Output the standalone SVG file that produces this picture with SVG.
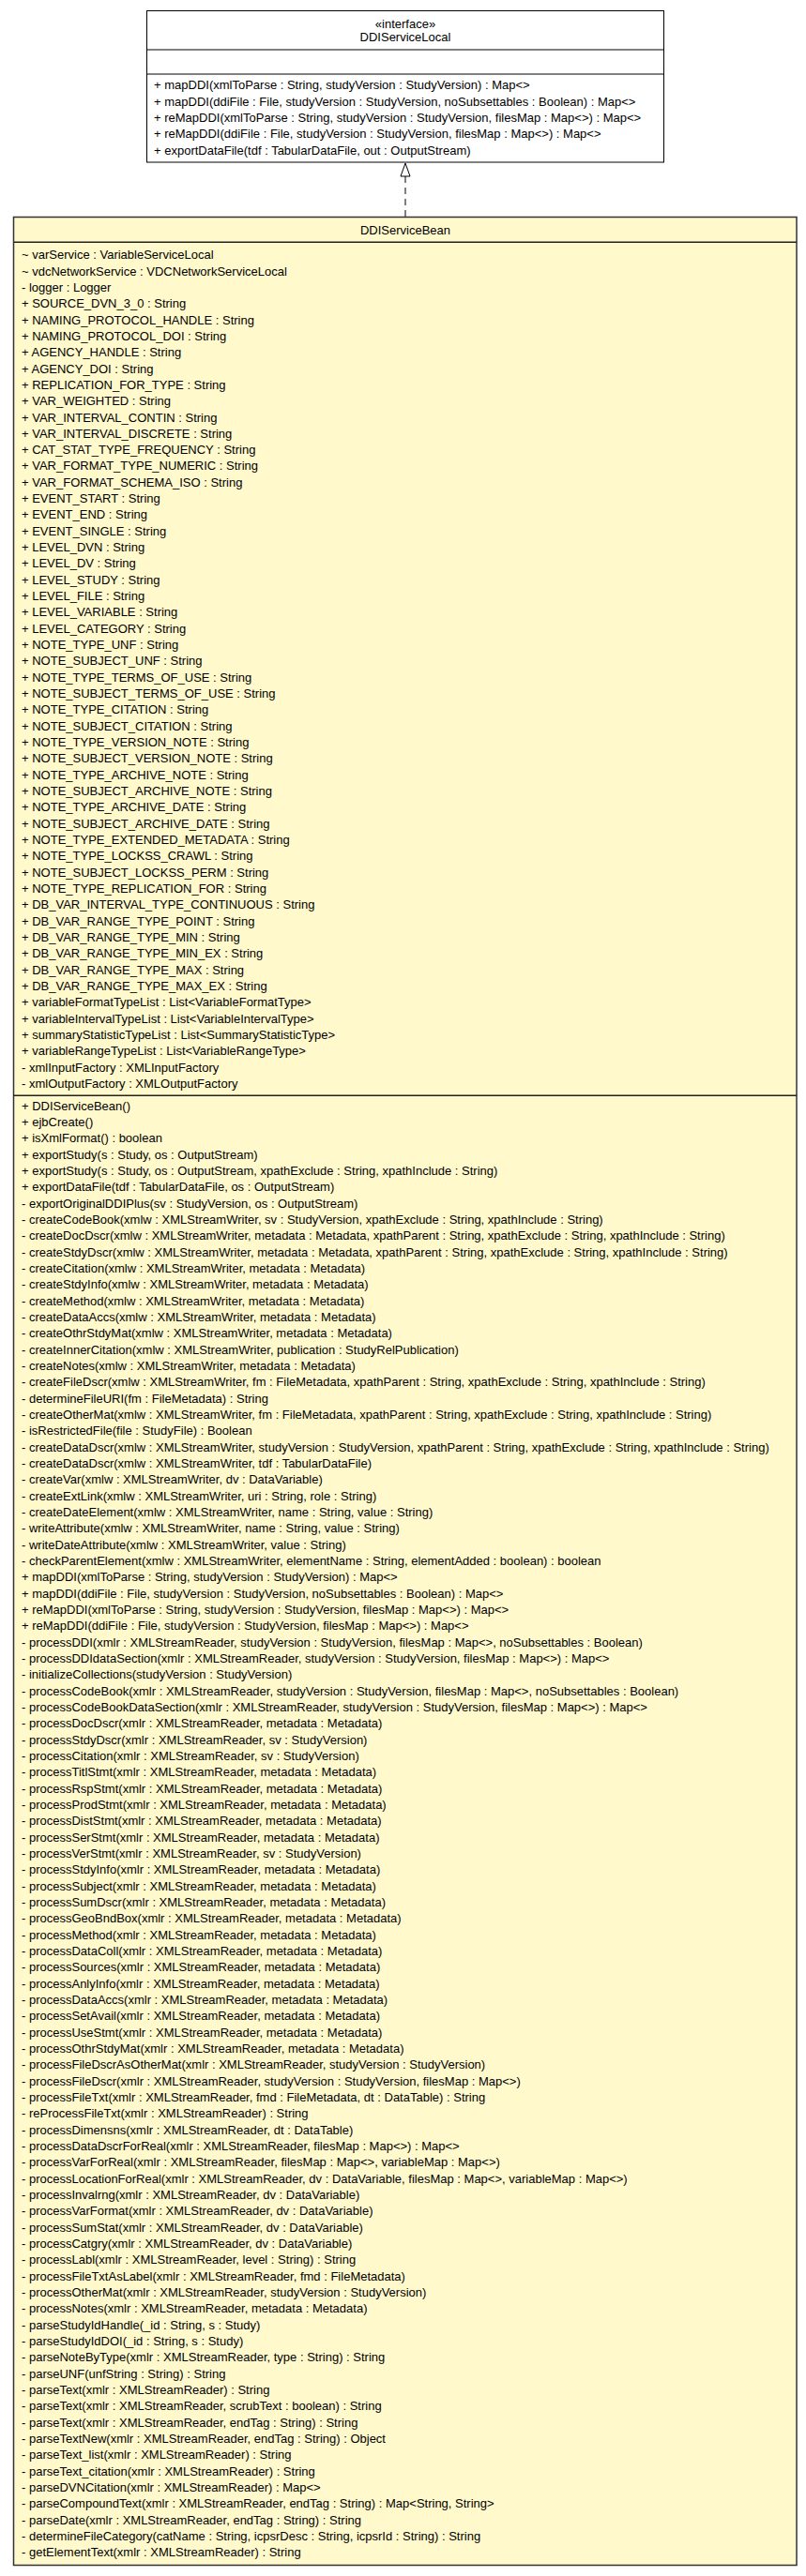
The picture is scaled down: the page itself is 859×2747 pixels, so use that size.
<svg xmlns="http://www.w3.org/2000/svg" width="859" height="2747" viewBox="0 0 859 2747">
<style>
.t{font-family:"Liberation Sans",Arial,sans-serif;font-size:13px;fill:#000}
.c{text-anchor:middle}
.ib{fill:#fff;stroke:#000;stroke-width:1}
.bb{fill:#FFF9CC;stroke:#333;stroke-width:1.5}
.sep{stroke:#000;stroke-width:1}
.bsep{stroke:#222;stroke-width:1.5}
.dash{fill:none;stroke:#000;stroke-width:1;stroke-dasharray:7,5}
</style>
<defs>
<marker id="realize" markerUnits="userSpaceOnUse" markerWidth="16" markerHeight="12" viewBox="0 0 16 12" refX="15" refY="6" orient="auto">
<path d="M1,1 L15,6 L1,11 Z" fill="#fff" stroke="#000" stroke-width="1" stroke-dasharray="none"/>
</marker>
</defs>
<rect width="859" height="2747" fill="#fff"/>
<g id="connectors">
<path class="dash" d="M432,231 L432,174" marker-end="url(#realize)"/>
</g>
<g id="DDIServiceLocal">
<rect class="ib" x="156.5" y="11.5" width="551" height="161.5"/>
<line class="sep" x1="156.5" y1="53" x2="707.5" y2="53"/>
<line class="sep" x1="156.5" y1="79" x2="707.5" y2="79"/>
<text class="t c" x="432" y="29.5">«interface»</text>
<text class="t c" x="432" y="44">DDIServiceLocal</text>
<text class="t" x="164" y="95.2">+ mapDDI(xmlToParse : String, studyVersion : StudyVersion) : Map&lt;&gt;<tspan x="164" dy="17.33">+ mapDDI(ddiFile : File, studyVersion : StudyVersion, noSubsettables : Boolean) : Map&lt;&gt;</tspan><tspan x="164" dy="17.33">+ reMapDDI(xmlToParse : String, studyVersion : StudyVersion, filesMap : Map&lt;&gt;) : Map&lt;&gt;</tspan><tspan x="164" dy="17.33">+ reMapDDI(ddiFile : File, studyVersion : StudyVersion, filesMap : Map&lt;&gt;) : Map&lt;&gt;</tspan><tspan x="164" dy="17.33">+ exportDataFile(tdf : TabularDataFile, out : OutputStream)</tspan></text>
</g>
<g id="DDIServiceBean">
<rect class="bb" x="14.5" y="231.5" width="834.5" height="2504"/>
<line class="bsep" x1="14.5" y1="258.3" x2="849" y2="258.3"/>
<line class="bsep" x1="14.5" y1="1168.3" x2="849" y2="1168.3"/>
<text class="t c" x="432" y="249.5">DDIServiceBean</text>
<text class="t" x="23" y="276.2">~ varService : VariableServiceLocal<tspan x="23" dy="17.33">~ vdcNetworkService : VDCNetworkServiceLocal</tspan><tspan x="23" dy="17.33">- logger : Logger</tspan><tspan x="23" dy="17.33">+ SOURCE_DVN_3_0 : String</tspan><tspan x="23" dy="17.33">+ NAMING_PROTOCOL_HANDLE : String</tspan><tspan x="23" dy="17.33">+ NAMING_PROTOCOL_DOI : String</tspan><tspan x="23" dy="17.33">+ AGENCY_HANDLE : String</tspan><tspan x="23" dy="17.33">+ AGENCY_DOI : String</tspan><tspan x="23" dy="17.33">+ REPLICATION_FOR_TYPE : String</tspan><tspan x="23" dy="17.33">+ VAR_WEIGHTED : String</tspan><tspan x="23" dy="17.33">+ VAR_INTERVAL_CONTIN : String</tspan><tspan x="23" dy="17.33">+ VAR_INTERVAL_DISCRETE : String</tspan><tspan x="23" dy="17.33">+ CAT_STAT_TYPE_FREQUENCY : String</tspan><tspan x="23" dy="17.33">+ VAR_FORMAT_TYPE_NUMERIC : String</tspan><tspan x="23" dy="17.33">+ VAR_FORMAT_SCHEMA_ISO : String</tspan><tspan x="23" dy="17.33">+ EVENT_START : String</tspan><tspan x="23" dy="17.33">+ EVENT_END : String</tspan><tspan x="23" dy="17.33">+ EVENT_SINGLE : String</tspan><tspan x="23" dy="17.33">+ LEVEL_DVN : String</tspan><tspan x="23" dy="17.33">+ LEVEL_DV : String</tspan><tspan x="23" dy="17.33">+ LEVEL_STUDY : String</tspan><tspan x="23" dy="17.33">+ LEVEL_FILE : String</tspan><tspan x="23" dy="17.33">+ LEVEL_VARIABLE : String</tspan><tspan x="23" dy="17.33">+ LEVEL_CATEGORY : String</tspan><tspan x="23" dy="17.33">+ NOTE_TYPE_UNF : String</tspan><tspan x="23" dy="17.33">+ NOTE_SUBJECT_UNF : String</tspan><tspan x="23" dy="17.33">+ NOTE_TYPE_TERMS_OF_USE : String</tspan><tspan x="23" dy="17.33">+ NOTE_SUBJECT_TERMS_OF_USE : String</tspan><tspan x="23" dy="17.33">+ NOTE_TYPE_CITATION : String</tspan><tspan x="23" dy="17.33">+ NOTE_SUBJECT_CITATION : String</tspan><tspan x="23" dy="17.33">+ NOTE_TYPE_VERSION_NOTE : String</tspan><tspan x="23" dy="17.33">+ NOTE_SUBJECT_VERSION_NOTE : String</tspan><tspan x="23" dy="17.33">+ NOTE_TYPE_ARCHIVE_NOTE : String</tspan><tspan x="23" dy="17.33">+ NOTE_SUBJECT_ARCHIVE_NOTE : String</tspan><tspan x="23" dy="17.33">+ NOTE_TYPE_ARCHIVE_DATE : String</tspan><tspan x="23" dy="17.33">+ NOTE_SUBJECT_ARCHIVE_DATE : String</tspan><tspan x="23" dy="17.33">+ NOTE_TYPE_EXTENDED_METADATA : String</tspan><tspan x="23" dy="17.33">+ NOTE_TYPE_LOCKSS_CRAWL : String</tspan><tspan x="23" dy="17.33">+ NOTE_SUBJECT_LOCKSS_PERM : String</tspan><tspan x="23" dy="17.33">+ NOTE_TYPE_REPLICATION_FOR : String</tspan><tspan x="23" dy="17.33">+ DB_VAR_INTERVAL_TYPE_CONTINUOUS : String</tspan><tspan x="23" dy="17.33">+ DB_VAR_RANGE_TYPE_POINT : String</tspan><tspan x="23" dy="17.33">+ DB_VAR_RANGE_TYPE_MIN : String</tspan><tspan x="23" dy="17.33">+ DB_VAR_RANGE_TYPE_MIN_EX : String</tspan><tspan x="23" dy="17.33">+ DB_VAR_RANGE_TYPE_MAX : String</tspan><tspan x="23" dy="17.33">+ DB_VAR_RANGE_TYPE_MAX_EX : String</tspan><tspan x="23" dy="17.33">+ variableFormatTypeList : List&lt;VariableFormatType&gt;</tspan><tspan x="23" dy="17.33">+ variableIntervalTypeList : List&lt;VariableIntervalType&gt;</tspan><tspan x="23" dy="17.33">+ summaryStatisticTypeList : List&lt;SummaryStatisticType&gt;</tspan><tspan x="23" dy="17.33">+ variableRangeTypeList : List&lt;VariableRangeType&gt;</tspan><tspan x="23" dy="17.33">- xmlInputFactory : XMLInputFactory</tspan><tspan x="23" dy="17.33">- xmlOutputFactory : XMLOutputFactory</tspan></text>
<text class="t" x="23" y="1183.8">+ DDIServiceBean()<tspan x="23" dy="17.33">+ ejbCreate()</tspan><tspan x="23" dy="17.33">+ isXmlFormat() : boolean</tspan><tspan x="23" dy="17.33">+ exportStudy(s : Study, os : OutputStream)</tspan><tspan x="23" dy="17.33">+ exportStudy(s : Study, os : OutputStream, xpathExclude : String, xpathInclude : String)</tspan><tspan x="23" dy="17.33">+ exportDataFile(tdf : TabularDataFile, os : OutputStream)</tspan><tspan x="23" dy="17.33">- exportOriginalDDIPlus(sv : StudyVersion, os : OutputStream)</tspan><tspan x="23" dy="17.33">- createCodeBook(xmlw : XMLStreamWriter, sv : StudyVersion, xpathExclude : String, xpathInclude : String)</tspan><tspan x="23" dy="17.33">- createDocDscr(xmlw : XMLStreamWriter, metadata : Metadata, xpathParent : String, xpathExclude : String, xpathInclude : String)</tspan><tspan x="23" dy="17.33">- createStdyDscr(xmlw : XMLStreamWriter, metadata : Metadata, xpathParent : String, xpathExclude : String, xpathInclude : String)</tspan><tspan x="23" dy="17.33">- createCitation(xmlw : XMLStreamWriter, metadata : Metadata)</tspan><tspan x="23" dy="17.33">- createStdyInfo(xmlw : XMLStreamWriter, metadata : Metadata)</tspan><tspan x="23" dy="17.33">- createMethod(xmlw : XMLStreamWriter, metadata : Metadata)</tspan><tspan x="23" dy="17.33">- createDataAccs(xmlw : XMLStreamWriter, metadata : Metadata)</tspan><tspan x="23" dy="17.33">- createOthrStdyMat(xmlw : XMLStreamWriter, metadata : Metadata)</tspan><tspan x="23" dy="17.33">- createInnerCitation(xmlw : XMLStreamWriter, publication : StudyRelPublication)</tspan><tspan x="23" dy="17.33">- createNotes(xmlw : XMLStreamWriter, metadata : Metadata)</tspan><tspan x="23" dy="17.33">- createFileDscr(xmlw : XMLStreamWriter, fm : FileMetadata, xpathParent : String, xpathExclude : String, xpathInclude : String)</tspan><tspan x="23" dy="17.33">- determineFileURI(fm : FileMetadata) : String</tspan><tspan x="23" dy="17.33">- createOtherMat(xmlw : XMLStreamWriter, fm : FileMetadata, xpathParent : String, xpathExclude : String, xpathInclude : String)</tspan><tspan x="23" dy="17.33">- isRestrictedFile(file : StudyFile) : Boolean</tspan><tspan x="23" dy="17.33">- createDataDscr(xmlw : XMLStreamWriter, studyVersion : StudyVersion, xpathParent : String, xpathExclude : String, xpathInclude : String)</tspan><tspan x="23" dy="17.33">- createDataDscr(xmlw : XMLStreamWriter, tdf : TabularDataFile)</tspan><tspan x="23" dy="17.33">- createVar(xmlw : XMLStreamWriter, dv : DataVariable)</tspan><tspan x="23" dy="17.33">- createExtLink(xmlw : XMLStreamWriter, uri : String, role : String)</tspan><tspan x="23" dy="17.33">- createDateElement(xmlw : XMLStreamWriter, name : String, value : String)</tspan><tspan x="23" dy="17.33">- writeAttribute(xmlw : XMLStreamWriter, name : String, value : String)</tspan><tspan x="23" dy="17.33">- writeDateAttribute(xmlw : XMLStreamWriter, value : String)</tspan><tspan x="23" dy="17.33">- checkParentElement(xmlw : XMLStreamWriter, elementName : String, elementAdded : boolean) : boolean</tspan><tspan x="23" dy="17.33">+ mapDDI(xmlToParse : String, studyVersion : StudyVersion) : Map&lt;&gt;</tspan><tspan x="23" dy="17.33">+ mapDDI(ddiFile : File, studyVersion : StudyVersion, noSubsettables : Boolean) : Map&lt;&gt;</tspan><tspan x="23" dy="17.33">+ reMapDDI(xmlToParse : String, studyVersion : StudyVersion, filesMap : Map&lt;&gt;) : Map&lt;&gt;</tspan><tspan x="23" dy="17.33">+ reMapDDI(ddiFile : File, studyVersion : StudyVersion, filesMap : Map&lt;&gt;) : Map&lt;&gt;</tspan><tspan x="23" dy="17.33">- processDDI(xmlr : XMLStreamReader, studyVersion : StudyVersion, filesMap : Map&lt;&gt;, noSubsettables : Boolean)</tspan><tspan x="23" dy="17.33">- processDDIdataSection(xmlr : XMLStreamReader, studyVersion : StudyVersion, filesMap : Map&lt;&gt;) : Map&lt;&gt;</tspan><tspan x="23" dy="17.33">- initializeCollections(studyVersion : StudyVersion)</tspan><tspan x="23" dy="17.33">- processCodeBook(xmlr : XMLStreamReader, studyVersion : StudyVersion, filesMap : Map&lt;&gt;, noSubsettables : Boolean)</tspan><tspan x="23" dy="17.33">- processCodeBookDataSection(xmlr : XMLStreamReader, studyVersion : StudyVersion, filesMap : Map&lt;&gt;) : Map&lt;&gt;</tspan><tspan x="23" dy="17.33">- processDocDscr(xmlr : XMLStreamReader, metadata : Metadata)</tspan><tspan x="23" dy="17.33">- processStdyDscr(xmlr : XMLStreamReader, sv : StudyVersion)</tspan><tspan x="23" dy="17.33">- processCitation(xmlr : XMLStreamReader, sv : StudyVersion)</tspan><tspan x="23" dy="17.33">- processTitlStmt(xmlr : XMLStreamReader, metadata : Metadata)</tspan><tspan x="23" dy="17.33">- processRspStmt(xmlr : XMLStreamReader, metadata : Metadata)</tspan><tspan x="23" dy="17.33">- processProdStmt(xmlr : XMLStreamReader, metadata : Metadata)</tspan><tspan x="23" dy="17.33">- processDistStmt(xmlr : XMLStreamReader, metadata : Metadata)</tspan><tspan x="23" dy="17.33">- processSerStmt(xmlr : XMLStreamReader, metadata : Metadata)</tspan><tspan x="23" dy="17.33">- processVerStmt(xmlr : XMLStreamReader, sv : StudyVersion)</tspan><tspan x="23" dy="17.33">- processStdyInfo(xmlr : XMLStreamReader, metadata : Metadata)</tspan><tspan x="23" dy="17.33">- processSubject(xmlr : XMLStreamReader, metadata : Metadata)</tspan><tspan x="23" dy="17.33">- processSumDscr(xmlr : XMLStreamReader, metadata : Metadata)</tspan><tspan x="23" dy="17.33">- processGeoBndBox(xmlr : XMLStreamReader, metadata : Metadata)</tspan><tspan x="23" dy="17.33">- processMethod(xmlr : XMLStreamReader, metadata : Metadata)</tspan><tspan x="23" dy="17.33">- processDataColl(xmlr : XMLStreamReader, metadata : Metadata)</tspan><tspan x="23" dy="17.33">- processSources(xmlr : XMLStreamReader, metadata : Metadata)</tspan><tspan x="23" dy="17.33">- processAnlyInfo(xmlr : XMLStreamReader, metadata : Metadata)</tspan><tspan x="23" dy="17.33">- processDataAccs(xmlr : XMLStreamReader, metadata : Metadata)</tspan><tspan x="23" dy="17.33">- processSetAvail(xmlr : XMLStreamReader, metadata : Metadata)</tspan><tspan x="23" dy="17.33">- processUseStmt(xmlr : XMLStreamReader, metadata : Metadata)</tspan><tspan x="23" dy="17.33">- processOthrStdyMat(xmlr : XMLStreamReader, metadata : Metadata)</tspan><tspan x="23" dy="17.33">- processFileDscrAsOtherMat(xmlr : XMLStreamReader, studyVersion : StudyVersion)</tspan><tspan x="23" dy="17.33">- processFileDscr(xmlr : XMLStreamReader, studyVersion : StudyVersion, filesMap : Map&lt;&gt;)</tspan><tspan x="23" dy="17.33">- processFileTxt(xmlr : XMLStreamReader, fmd : FileMetadata, dt : DataTable) : String</tspan><tspan x="23" dy="17.33">- reProcessFileTxt(xmlr : XMLStreamReader) : String</tspan><tspan x="23" dy="17.33">- processDimensns(xmlr : XMLStreamReader, dt : DataTable)</tspan><tspan x="23" dy="17.33">- processDataDscrForReal(xmlr : XMLStreamReader, filesMap : Map&lt;&gt;) : Map&lt;&gt;</tspan><tspan x="23" dy="17.33">- processVarForReal(xmlr : XMLStreamReader, filesMap : Map&lt;&gt;, variableMap : Map&lt;&gt;)</tspan><tspan x="23" dy="17.33">- processLocationForReal(xmlr : XMLStreamReader, dv : DataVariable, filesMap : Map&lt;&gt;, variableMap : Map&lt;&gt;)</tspan><tspan x="23" dy="17.33">- processInvalrng(xmlr : XMLStreamReader, dv : DataVariable)</tspan><tspan x="23" dy="17.33">- processVarFormat(xmlr : XMLStreamReader, dv : DataVariable)</tspan><tspan x="23" dy="17.33">- processSumStat(xmlr : XMLStreamReader, dv : DataVariable)</tspan><tspan x="23" dy="17.33">- processCatgry(xmlr : XMLStreamReader, dv : DataVariable)</tspan><tspan x="23" dy="17.33">- processLabl(xmlr : XMLStreamReader, level : String) : String</tspan><tspan x="23" dy="17.33">- processFileTxtAsLabel(xmlr : XMLStreamReader, fmd : FileMetadata)</tspan><tspan x="23" dy="17.33">- processOtherMat(xmlr : XMLStreamReader, studyVersion : StudyVersion)</tspan><tspan x="23" dy="17.33">- processNotes(xmlr : XMLStreamReader, metadata : Metadata)</tspan><tspan x="23" dy="17.33">- parseStudyIdHandle(_id : String, s : Study)</tspan><tspan x="23" dy="17.33">- parseStudyIdDOI(_id : String, s : Study)</tspan><tspan x="23" dy="17.33">- parseNoteByType(xmlr : XMLStreamReader, type : String) : String</tspan><tspan x="23" dy="17.33">- parseUNF(unfString : String) : String</tspan><tspan x="23" dy="17.33">- parseText(xmlr : XMLStreamReader) : String</tspan><tspan x="23" dy="17.33">- parseText(xmlr : XMLStreamReader, scrubText : boolean) : String</tspan><tspan x="23" dy="17.33">- parseText(xmlr : XMLStreamReader, endTag : String) : String</tspan><tspan x="23" dy="17.33">- parseTextNew(xmlr : XMLStreamReader, endTag : String) : Object</tspan><tspan x="23" dy="17.33">- parseText_list(xmlr : XMLStreamReader) : String</tspan><tspan x="23" dy="17.33">- parseText_citation(xmlr : XMLStreamReader) : String</tspan><tspan x="23" dy="17.33">- parseDVNCitation(xmlr : XMLStreamReader) : Map&lt;&gt;</tspan><tspan x="23" dy="17.33">- parseCompoundText(xmlr : XMLStreamReader, endTag : String) : Map&lt;String, String&gt;</tspan><tspan x="23" dy="17.33">- parseDate(xmlr : XMLStreamReader, endTag : String) : String</tspan><tspan x="23" dy="17.33">- determineFileCategory(catName : String, icpsrDesc : String, icpsrId : String) : String</tspan><tspan x="23" dy="17.33">- getElementText(xmlr : XMLStreamReader) : String</tspan></text>
</g>
</svg>
